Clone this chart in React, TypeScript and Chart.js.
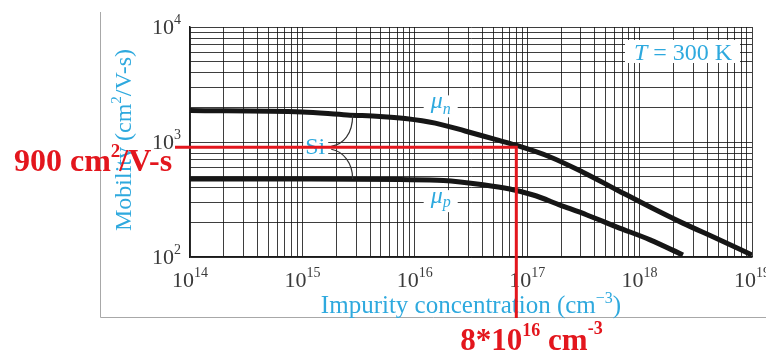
import React, { useEffect, useRef } from "react";
import { Chart, registerables } from "chart.js";

Chart.register(...registerables);

// ---------- data ----------
const xDecades = [14, 15, 16, 17, 18, 19]; // 10^14 .. 10^19 cm^-3
const yDecades = [2, 3, 4]; // 10^2 .. 10^4 cm^2/V-s

const muNConc = [1e14, 1e15, 2.5e15, 4.9e15, 8.2e15, 1.52e16, 2.8e16, 5.2e16, 7.8e16, 1.6e17, 3.1e17, 6.3e17, 1.24e18, 2.4e18, 4.9e18, 1e19];
const muNValues = [1880, 1825, 1718, 1670, 1600, 1460, 1247, 1052, 942, 741, 549, 383, 272, 198, 144, 104];

const muPConc = [1e14, 1e15, 7.4e15, 1.8e16, 4.05e16, 7e16, 1.13e17, 1.96e17, 3.4e17, 6.3e17, 1.24e18, 2.43e18];
const muPValues = [477, 476, 471, 463, 425, 390, 346, 283, 232, 182, 141, 104];

const markConc = 8e16;
const markMobility = 900;

const xTitle = "Impurity concentration (cm";
const xTitleSup = "\u22123";
const yTitle = "Mobility (cm";
const yTitleSup = "2";
const yTitleEnd = "/V-s)";
const tempLabel = " = 300 K";
const markMobilityText = ["900 cm", "2", "/V-s"];
const markConcText = ["8*10", "16", " cm", "-3"];

// ---------- helpers ----------
const SERIF = '"Liberation Serif", "Times New Roman", serif';
const BLUE = "#2ea9de";
const RED = "#e3161d";
const TICK = "#3a3a3a";

function gridValues(decades: number[]) {
  const v: { value: number }[] = [];
  for (let i = 0; i < decades.length; i++) {
    const p = Math.pow(10, decades[i]);
    if (i === decades.length - 1) {
      v.push({ value: p });
      break;
    }
    for (let k = 1; k < 10; k++) v.push({ value: k * p });
  }
  return v;
}

type Run = { text: string; font: string; dy?: number; dx?: number };

function drawRuns(ctx: CanvasRenderingContext2D, runs: Run[], x: number, y: number, align: "left" | "center" | "right") {
  let total = 0;
  for (const r of runs) {
    ctx.font = r.font;
    total += ctx.measureText(r.text).width + (r.dx || 0);
  }
  let cx = align === "center" ? x - total / 2 : align === "right" ? x - total : x;
  ctx.textAlign = "left";
  ctx.textBaseline = "alphabetic";
  for (const r of runs) {
    ctx.font = r.font;
    cx += r.dx || 0;
    ctx.fillText(r.text, cx, y + (r.dy || 0));
    cx += ctx.measureText(r.text).width;
  }
  return total;
}

const overlay = {
  id: "overlay",
  afterDraw(chart: any) {
    const ctx: CanvasRenderingContext2D = chart.ctx;
    const a = chart.chartArea;
    const xs = chart.scales.x;
    const ys = chart.scales.y;
    ctx.save();

    // outer frame (gray L)
    ctx.strokeStyle = "#a8a8a8";
    ctx.lineWidth = 1;
    ctx.beginPath();
    ctx.moveTo(a.left - 89.5, a.top - 15);
    ctx.lineTo(a.left - 89.5, a.bottom + 60.5);
    ctx.lineTo(chart.width, a.bottom + 60.5);
    ctx.stroke();

    // tick labels
    ctx.fillStyle = TICK;
    for (const d of yDecades) {
      const py = ys.getPixelForValue(Math.pow(10, d));
      drawRuns(
        ctx,
        [
          { text: "10", font: `22px ${SERIF}` },
          { text: String(d), font: `14px ${SERIF}`, dy: -10 },
        ],
        a.left - 9,
        py + 6.5,
        "right"
      );
    }
    for (const d of xDecades) {
      const px = xs.getPixelForValue(Math.pow(10, d));
      drawRuns(
        ctx,
        [
          { text: "10", font: `22px ${SERIF}` },
          { text: String(d), font: `14px ${SERIF}`, dy: -10 },
        ],
        px,
        a.bottom + 30,
        "center"
      );
    }

    // axis titles
    ctx.fillStyle = BLUE;
    drawRuns(
      ctx,
      [
        { text: xTitle, font: `25px ${SERIF}` },
        { text: xTitleSup, font: `16px ${SERIF}`, dy: -10 },
        { text: ")", font: `25px ${SERIF}` },
      ],
      (a.left + a.right) / 2,
      a.bottom + 56,
      "center"
    );
    ctx.save();
    ctx.translate(a.left - 59, (a.top + a.bottom) / 2 - 2);
    ctx.rotate(-Math.PI / 2);
    drawRuns(
      ctx,
      [
        { text: yTitle, font: `24px ${SERIF}` },
        { text: yTitleSup, font: `15px ${SERIF}`, dy: -10 },
        { text: yTitleEnd, font: `24px ${SERIF}` },
      ],
      0,
      0,
      "center"
    );
    ctx.restore();

    // T = 300 K box
    ctx.fillStyle = "#ffffff";
    ctx.fillRect(a.right - 127, a.top + 13, 115, 23);
    ctx.fillStyle = BLUE;
    drawRuns(
      ctx,
      [
        { text: "T", font: `italic 24px ${SERIF}` },
        { text: tempLabel, font: `24px ${SERIF}` },
      ],
      a.right - 69,
      a.top + 33,
      "center"
    );

    // mu_n label
    const nx = xs.getPixelForValue(1.7e16);
    const ny = ys.getPixelForValue(2000) + 1;
    ctx.fillStyle = "#ffffff";
    ctx.fillRect(nx - 17, ny - 13, 34, 22);
    ctx.fillStyle = BLUE;
    drawRuns(
      ctx,
      [
        { text: "\u03bc", font: `italic 24px ${SERIF}` },
        { text: "n", font: `italic 16px ${SERIF}`, dy: 6 },
      ],
      nx,
      ny,
      "center"
    );

    // mu_p label
    const px2 = xs.getPixelForValue(1.7e16);
    const py2 = ys.getPixelForValue(300) + 1;
    ctx.fillStyle = "#ffffff";
    ctx.fillRect(px2 - 17, py2 - 13, 34, 22);
    ctx.fillStyle = BLUE;
    drawRuns(
      ctx,
      [
        { text: "\u03bc", font: `italic 24px ${SERIF}` },
        { text: "p", font: `italic 16px ${SERIF}`, dy: 4 },
      ],
      px2,
      py2,
      "center"
    );

    // Si label with brace
    const sx = xs.getPixelForValue(1.3e15);
    const sm = ys.getPixelForValue(markMobility);
    ctx.fillStyle = "#ffffff";
    ctx.fillRect(sx - 12, sm - 10, 25, 20);
    ctx.fillStyle = BLUE;
    drawRuns(ctx, [{ text: "Si", font: `24px ${SERIF}` }], sx, sm + 7, "center");
    const bx0 = sx + 16;
    const bx1 = xs.getPixelForValue(2.8e15);
    const bTop = ys.getPixelForValue(1720);
    const bBot = ys.getPixelForValue(477);
    ctx.strokeStyle = "#333333";
    ctx.lineWidth = 1.2;
    ctx.beginPath();
    ctx.moveTo(bx0, sm - 1);
    ctx.bezierCurveTo(bx0 + 12, sm - 3, bx1, sm - 13, bx1, bTop);
    ctx.moveTo(bx0, sm + 2);
    ctx.bezierCurveTo(bx0 + 12, sm + 4, bx1, sm + 16, bx1, bBot);
    ctx.stroke();

    // red marker lines
    const rx = xs.getPixelForValue(markConc);
    const ry = ys.getPixelForValue(markMobility);
    ctx.strokeStyle = RED;
    ctx.lineWidth = 3;
    ctx.beginPath();
    ctx.moveTo(a.left - 15, ry);
    ctx.lineTo(rx, ry);
    ctx.lineTo(rx, a.bottom + 61);
    ctx.stroke();

    // red texts
    ctx.fillStyle = RED;
    drawRuns(
      ctx,
      [
        { text: markMobilityText[0], font: `bold 32px ${SERIF}` },
        { text: markMobilityText[1], font: `bold 19px ${SERIF}`, dy: -14 },
        { text: markMobilityText[2], font: `bold 32px ${SERIF}`, dx: -1 },
      ],
      14,
      ry + 24,
      "left"
    );
    drawRuns(
      ctx,
      [
        { text: markConcText[0], font: `bold 31px ${SERIF}` },
        { text: markConcText[1], font: `bold 18px ${SERIF}`, dy: -14 },
        { text: markConcText[2], font: `bold 31px ${SERIF}` },
        { text: markConcText[3], font: `bold 18px ${SERIF}`, dy: -16 },
      ],
      rx - 56,
      a.bottom + 93,
      "left"
    );

    ctx.restore();
  },
};

export default function App() {
  const ref = useRef<HTMLCanvasElement | null>(null);

  useEffect(() => {
    if (!ref.current) return;
    const gridColor = "rgba(20,20,20,0.82)";
    const chart = new Chart(ref.current, {
      type: "line",
      data: {
        datasets: [
          {
            label: "\u03bcn",
            data: muNConc.map((x, i) => ({ x, y: muNValues[i] })),
            borderColor: "#161616",
            borderWidth: 5,
            pointRadius: 0,
            cubicInterpolationMode: "monotone",
            fill: false,
          },
          {
            label: "\u03bcp",
            data: muPConc.map((x, i) => ({ x, y: muPValues[i] })),
            borderColor: "#161616",
            borderWidth: 5,
            pointRadius: 0,
            cubicInterpolationMode: "monotone",
            fill: false,
          },
        ],
      },
      options: {
        responsive: false,
        animation: false,
        devicePixelRatio: 1,
        layout: { padding: { left: 190, right: 14, top: 27, bottom: 95 } },
        plugins: { legend: { display: false }, tooltip: { enabled: false } },
        scales: {
          x: {
            type: "logarithmic",
            min: Math.pow(10, xDecades[0]),
            max: Math.pow(10, xDecades[xDecades.length - 1]),
            afterBuildTicks: (s: any) => {
              s.ticks = gridValues(xDecades);
            },
            ticks: { display: false },
            grid: { color: gridColor, lineWidth: 1, drawTicks: false },
            border: { display: true, color: "#1a1a1a", width: 1.5 },
          },
          y: {
            type: "logarithmic",
            min: Math.pow(10, yDecades[0]),
            max: Math.pow(10, yDecades[yDecades.length - 1]),
            afterBuildTicks: (s: any) => {
              s.ticks = gridValues(yDecades);
            },
            ticks: { display: false },
            grid: { color: gridColor, lineWidth: 1, drawTicks: false },
            border: { display: true, color: "#1a1a1a", width: 1.5 },
          },
        },
      } as any,
      plugins: [overlay],
    });
    return () => chart.destroy();
  }, []);

  return (
    <div style={{ position: "absolute", left: 0, top: 0, width: 766, height: 352, background: "#fff" }}>
      <canvas ref={ref} width={766} height={352} style={{ display: "block", width: 766, height: 352 }} />
    </div>
  );
}
